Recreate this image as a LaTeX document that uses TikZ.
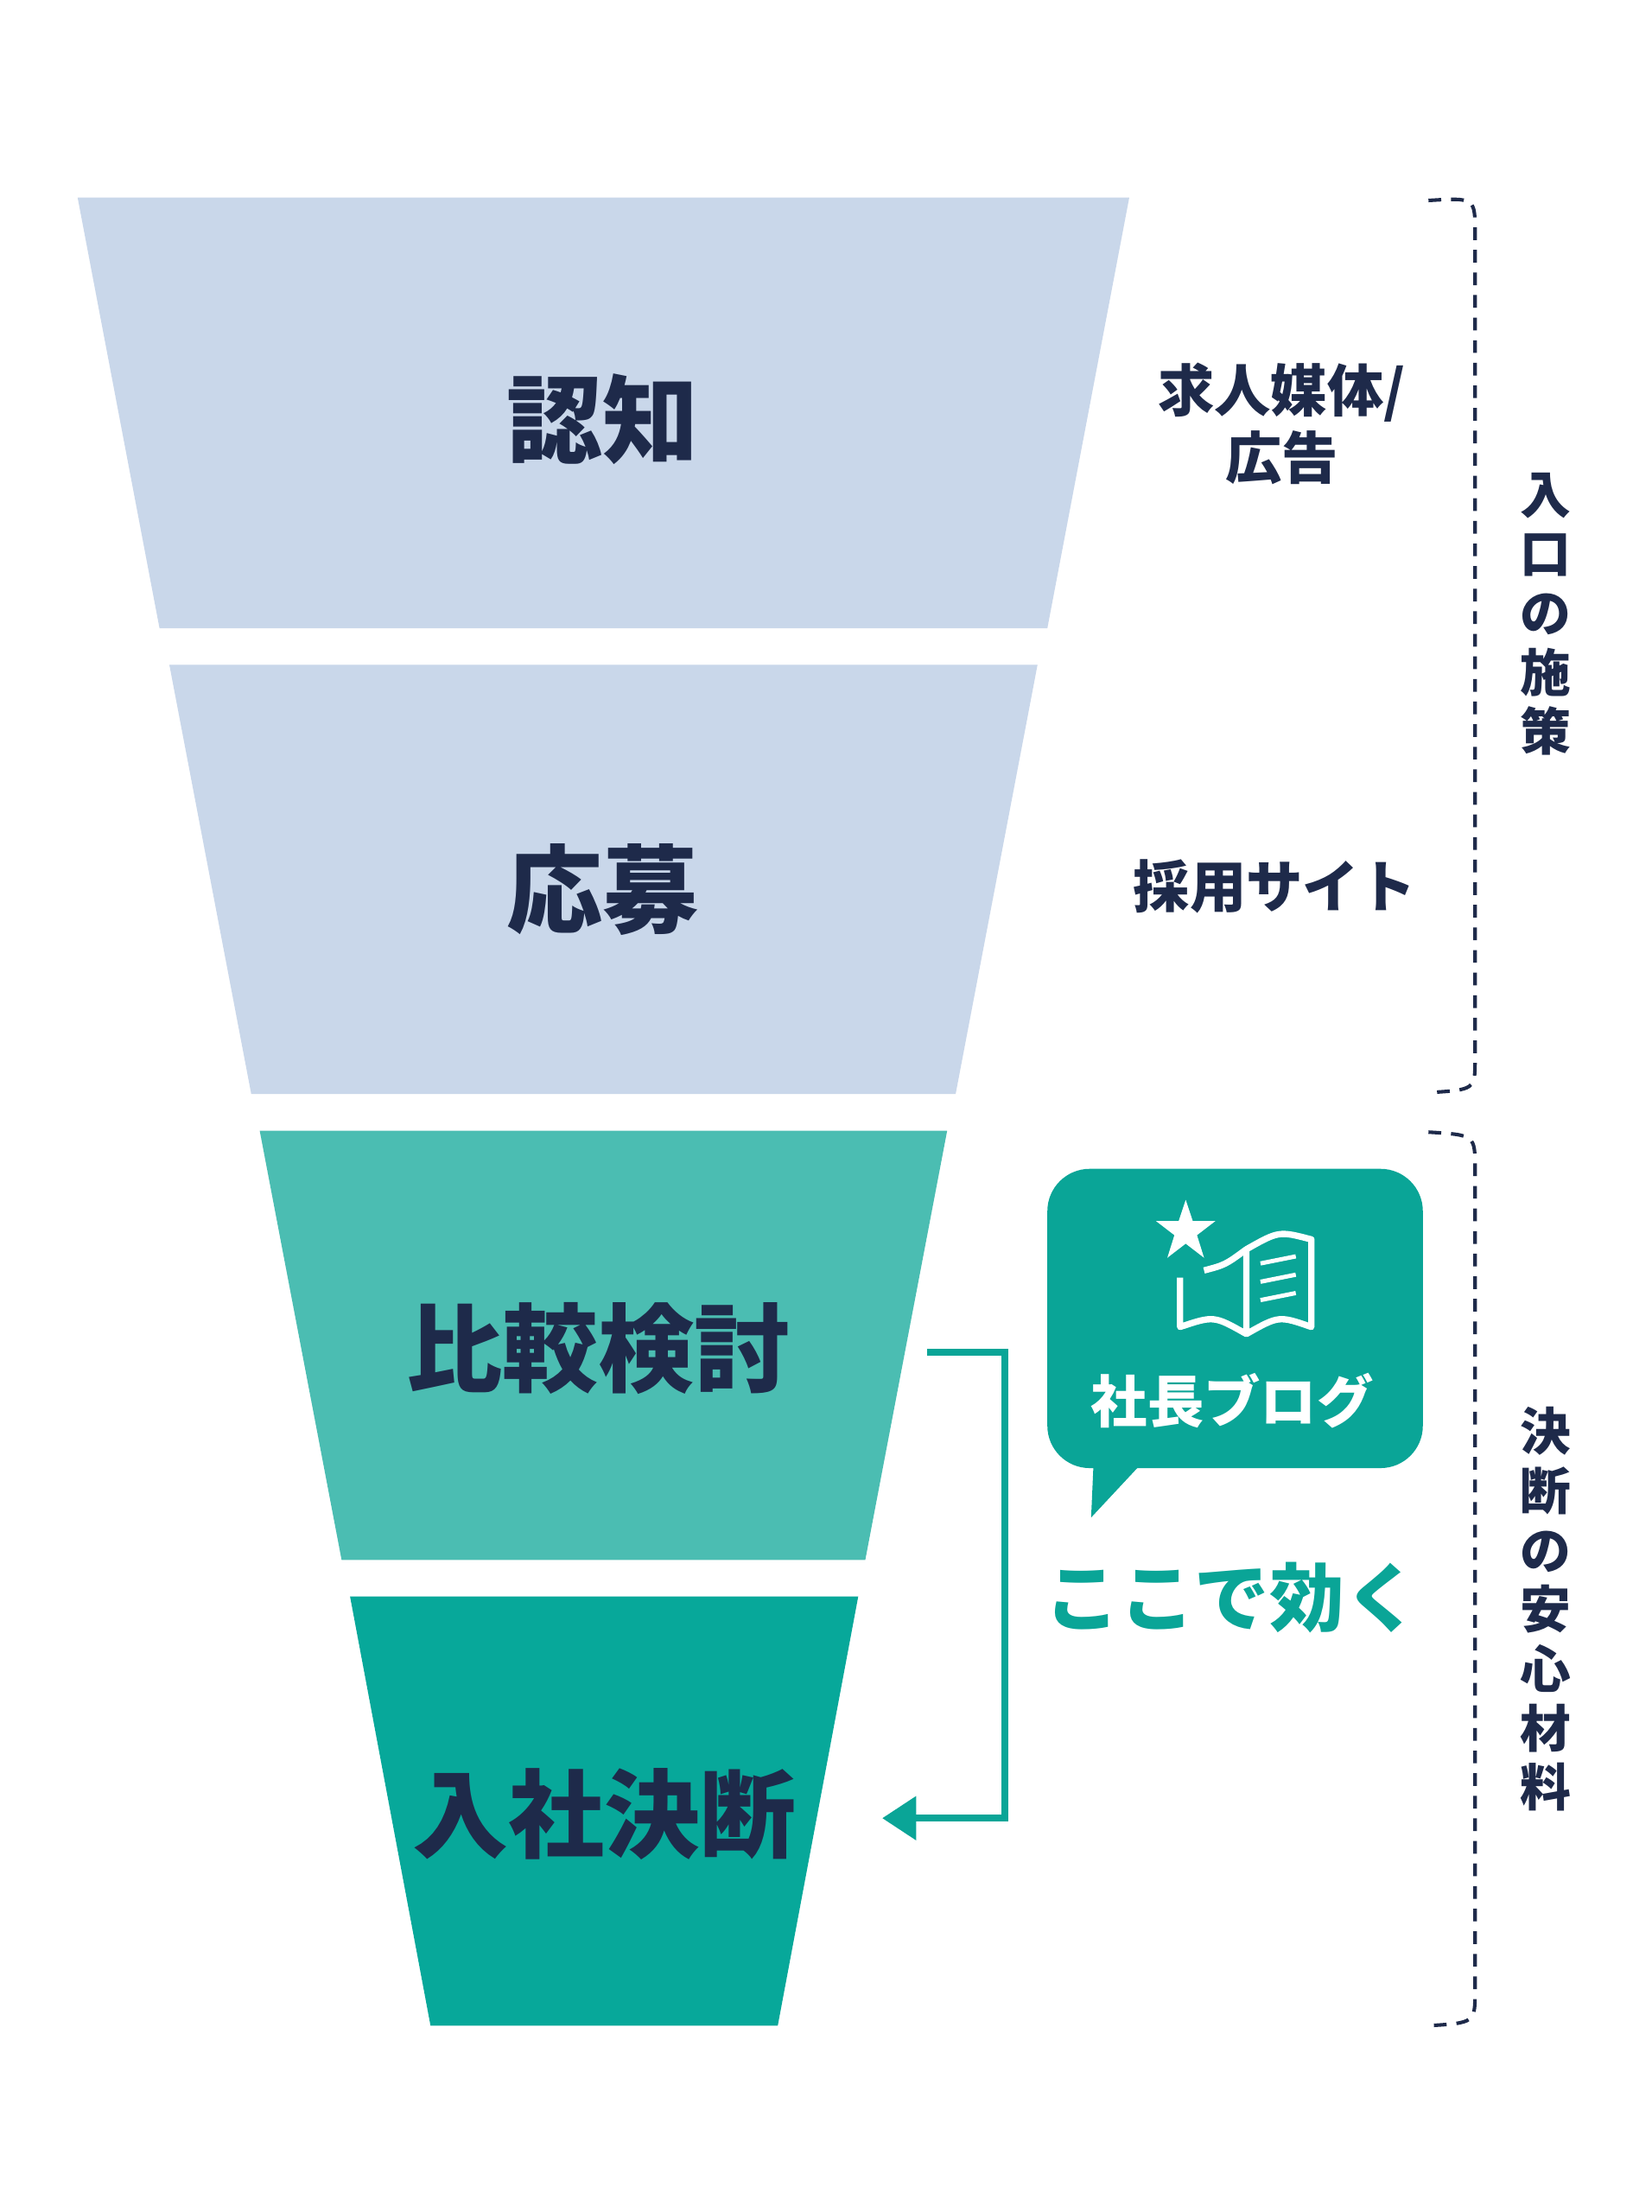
\documentclass[tikz,border=0pt]{standalone}
\usepackage{fontspec}
\newfontfamily\cjk{Noto Sans CJK JP}
\usetikzlibrary{arrows.meta}
\definecolor{navy}{HTML}{1E2A4A}
\definecolor{lb}{HTML}{C9D7EA}
\definecolor{t1}{HTML}{4BBDB2}
\definecolor{t2}{HTML}{07A89A}
\definecolor{tb}{HTML}{0AA597}
\tikzset{
 big/.style={font=\cjk\bfseries\fontsize{68}{68}\selectfont, text=navy},
 side/.style={font=\cjk\bfseries\fontsize{40}{48}\selectfont, text=navy, align=center},
 vert/.style={font=\cjk\bfseries\fontsize{36}{42}\selectfont, text=navy, align=center},
 brace/.style={navy, line width=2.5pt, dash pattern=on 9pt off 7pt}
}
\begin{document}
\begin{tikzpicture}[x=1pt,y=-1pt]
\useasboundingbox[fill=white] (0,0) rectangle (1170,1567);
\fill[lb] (55,140)--(800,140)--(742,445)--(113,445)--cycle;
\fill[lb] (120,471)--(735,471)--(677,775)--(178,775)--cycle;
\fill[t1] (184,801)--(671,801)--(613,1105)--(242,1105)--cycle;
\fill[t2] (248,1131)--(608,1131)--(551,1435)--(305,1435)--cycle;
\node[big] (a) at (427,297) {認知};
\node[big] (b) at (427,630) {応募};
\node[big] (c) at (424,955) {比較検討};
\node[big] (d) at (428,1285) {入社決断};
\node[side] (s1) at (908,300) {求人媒体/\\広告};
\node[side] (s2) at (903,628) {採用サイト};
% braces
\draw[brace] (1012,142) .. controls (1045,140) .. (1045,165) -- (1045,750) .. controls (1045,772) .. (1012,774);
\draw[brace] (1012,802) .. controls (1045,804) .. (1045,828) -- (1045,1410) .. controls (1045,1433) .. (1012,1435);
\node[vert] (v1) at (1095,435) {入\\口\\の\\施\\策};
\node[vert] (v2) at (1095,1140) {決\\断\\の\\安\\心\\材\\料};
% bubble
\fill[tb, rounded corners=30pt] (742,828) rectangle (1008,1040);
\fill[tb] (775,1030)--(815,1030)--(773,1075)--cycle;
\node[font=\cjk\bfseries\fontsize{40}{40}\selectfont, text=white] (blog) at (873,992) {社長ブログ};
% icon
\fill[white] (840,850)--(845,865)--(861,865)--(848,875)--(853,891)--(840,881)--(827,891)--(832,875)--(819,865)--(835,865)--cycle;
\draw[white, line width=4.5pt, line join=round] (836,905)--(836,940) .. controls (860,932) .. (883,945) .. controls (906,932) .. (929,940) -- (929,878) .. controls (906,872) .. (883,885) -- (883,945);
\draw[white, line width=4.5pt, line join=round] (853,900) .. controls (868,896) .. (883,885);
\draw[white, line width=3pt] (893,895)--(918,890) (893,908)--(918,903) (893,921)--(918,916);
\node[font=\cjk\bfseries\fontsize{53}{53}\selectfont, text=tb] (here) at (873,1132) {ここで効く};
% arrow
\coordinate (p1) at (657,958);
\coordinate (p2) at (625,1288);
\draw[tb, line width=5pt, -{Triangle[length=24pt,width=30pt]}] (p1) -- (712,958) -- (712,1288) -- (p2);
\end{tikzpicture}
\end{document}
